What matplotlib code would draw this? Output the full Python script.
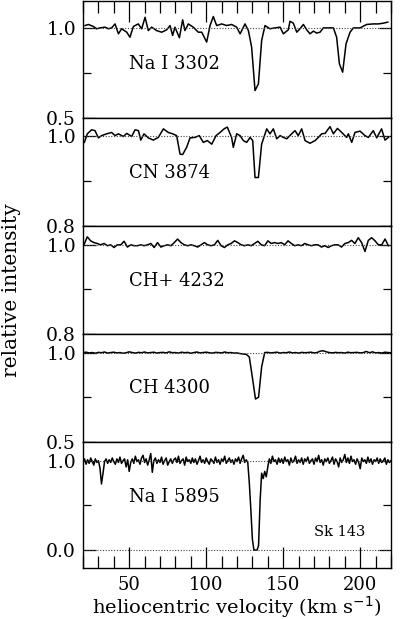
"""Stacked interstellar absorption profiles towards Sk 143."""

import numpy as np
import matplotlib
matplotlib.use("Agg")
import matplotlib.pyplot as plt
from matplotlib.ticker import FixedLocator, MultipleLocator

plt.rcParams["font.family"] = ["DejaVu Serif"]

# --- data --------------------------------------------------------------------
# Na I 3302
v_na3302 = [21.3, 23.5, 26.7, 28.9, 31.0, 34.3, 36.5, 38.6, 40.8, 43.0, 45.1,
            48.4, 50.5, 52.7, 55.9, 58.1, 60.3, 62.4, 64.6, 67.8, 71.1, 74.3,
            76.5, 78.2, 79.7, 82.6, 84.7, 86.2, 88.4, 91.6, 94.9, 97.1, 100.3,
            102.5, 104.6, 106.8, 110.1, 113.3, 116.5, 119.8, 122.0, 125.2,
            127.4, 129.5, 131.7, 133.9, 136.0, 138.2, 141.4, 144.7, 148.0,
            150.1, 153.3, 154.4, 156.6, 158.8, 160.9, 163.1, 165.3, 167.4,
            169.6, 171.7, 173.9, 176.1, 179.3, 182.6, 184.7, 186.5, 188.6,
            190.8, 193.4, 195.6, 199.9, 204.2, 208.5, 211.8, 215.0, 217.9]
f_na3302 = [1.011, 1.017, 1.006, 0.993, 0.998, 1.002, 0.993, 0.998, 1.020,
            0.965, 0.993, 0.974, 0.946, 1.006, 1.020, 0.993, 1.057, 0.983,
            1.002, 0.983, 0.974, 0.987, 1.011, 0.956, 1.002, 0.943, 1.043,
            0.983, 1.020, 1.002, 0.974, 0.974, 0.919, 1.011, 1.061, 1.011,
            1.020, 1.011, 1.017, 1.002, 0.965, 1.020, 0.983, 0.891, 0.650,
            0.687, 0.928, 1.011, 0.993, 0.998, 1.002, 0.965, 0.987, 1.035,
            1.024, 0.974, 0.993, 1.017, 0.987, 0.965, 0.980, 0.969, 0.974,
            0.998, 0.998, 0.998, 0.946, 0.798, 0.752, 0.909, 0.974, 0.998,
            0.998, 1.017, 1.020, 1.020, 1.024, 1.030]

# CN 3874
v_cn = [20.9, 22.8, 25.6, 27.8, 30.0, 32.1, 35.4, 38.6, 40.8, 43.0, 46.2,
        48.4, 51.6, 53.8, 56.0, 57.5, 59.6, 62.4, 65.7, 68.9, 72.2, 75.4,
        78.2, 80.8, 83.0, 84.7, 87.3, 89.5, 92.7, 95.5, 98.1, 100.7, 103.6,
        106.4, 109.0, 111.6, 113.7, 116.5, 117.6, 119.8, 122.0, 124.1, 126.3,
        128.5, 130.2, 131.7, 133.9, 136.0, 139.3, 141.4, 143.6, 145.8, 148.0,
        150.1, 152.3, 155.5, 157.7, 159.8, 162.0, 164.2, 167.4, 170.7, 172.8,
        175.0, 177.2, 180.4, 182.6, 185.2, 188.0, 191.2, 192.3, 194.5, 196.6,
        199.9, 203.1, 205.3, 208.5, 210.7, 213.9, 216.1, 218.3]
f_cn = [0.985, 1.004, 1.013, 1.011, 0.995, 1.000, 1.004, 1.007, 1.000, 1.004,
        0.998, 1.005, 0.998, 1.013, 1.011, 0.990, 1.004, 0.995, 0.990, 0.996,
        1.015, 1.007, 1.004, 1.000, 0.959, 0.958, 0.974, 0.995, 0.996, 1.000,
        0.985, 0.989, 0.981, 1.000, 1.007, 1.015, 1.019, 0.996, 0.974, 1.004,
        1.000, 0.989, 0.985, 0.996, 0.989, 0.907, 0.907, 0.981, 1.015, 1.004,
        1.015, 0.993, 1.000, 0.996, 0.993, 1.004, 1.011, 1.000, 1.015, 0.989,
        0.983, 0.989, 0.996, 1.004, 1.005, 1.020, 1.004, 1.016, 1.007, 0.996,
        1.004, 0.985, 1.007, 1.010, 1.000, 0.996, 1.011, 0.995, 1.015, 0.990,
        0.996]

# CH+ 4232 (even sampling from 20.6 to 218.3 km/s)
f_chp = [1.000, 1.018, 1.009, 1.005, 1.003, 1.000, 1.003, 0.998, 1.000, 0.994,
         1.000, 1.000, 1.008, 0.995, 1.000, 0.998, 0.998, 1.000, 0.998, 1.000,
         1.003, 0.994, 1.005, 0.995, 0.998, 1.000, 0.998, 1.005, 1.013, 1.005,
         1.000, 0.998, 1.000, 0.998, 0.995, 1.000, 1.005, 1.000, 0.998, 1.000,
         1.010, 0.998, 0.994, 1.000, 1.003, 1.009, 1.005,
         1.000, 0.998, 1.000, 0.998, 1.003, 1.008, 1.000, 0.998, 1.009, 1.003,
         1.005, 1.003, 1.005, 1.000, 1.009, 1.003, 0.998, 1.000, 0.998, 1.003,
         1.000, 0.998, 1.000, 1.000, 0.995, 0.998, 0.994, 0.998, 1.000, 1.000,
         0.995, 1.003, 1.005, 1.010, 1.003, 1.016, 1.005, 0.985, 1.010, 1.016,
         1.009, 1.000, 1.000, 1.013, 0.998]
v_chp = np.linspace(20.6, 218.3, len(f_chp))

# CH 4300 (2 km/s steps from 20 to 220)
f_ch = [1.000, 1.002, 0.998, 1.000, 0.996, 1.001, 0.999, 1.003, 0.997, 1.000,
        1.002, 0.998, 1.000, 0.996, 0.999, 1.004, 1.000, 0.997, 1.001, 0.999,
        1.003, 0.998, 1.000, 1.002, 0.997, 1.000, 1.001, 0.998, 1.004, 0.999,
        1.000, 0.997, 1.002, 0.999, 1.001, 0.996, 1.000, 1.003, 0.998, 1.000,
        1.002, 0.999, 0.997, 1.001, 1.000, 0.998, 1.003, 0.999, 1.000, 0.997,
        0.998, 0.994, 0.992, 0.990, 0.975, 0.860, 0.740, 0.750, 0.920, 1.000,
        1.001, 0.998, 1.000, 1.002, 0.997, 1.000, 0.999, 1.003, 0.998, 1.000,
        0.997, 1.001, 0.999, 1.000, 1.002, 0.998, 1.000, 1.008, 1.010, 1.004,
        1.000, 0.998, 1.001, 0.999, 1.000, 0.997, 1.002, 0.999, 1.000, 1.001,
        0.998, 1.000, 1.006, 0.999, 1.004, 0.998, 1.000, 0.997, 1.002, 1.000,
        0.999]
v_ch = np.linspace(20, 220, len(f_ch))

# Na I 5895 (1 km/s steps from 20 to 220)
f_na5895 = [
    0.98, 1.02, 0.96, 1.01, 0.97, 1.03, 0.99, 0.95, 1.02, 0.98,
    1.00, 0.92, 0.74, 0.86, 0.99, 1.02, 0.97, 1.01, 0.98, 1.03,
    0.99, 0.96, 1.02, 0.98, 1.04, 0.97, 1.00, 1.02, 0.93, 1.01,
    0.88, 0.98, 1.02, 0.97, 1.05, 0.99, 1.01, 0.96, 1.03, 1.06,
    0.98, 1.02, 0.95, 1.01, 1.08, 0.87, 1.00, 1.03, 0.97, 1.01,
    0.98, 1.04, 0.96, 1.00, 1.03, 0.95, 0.99, 1.02, 0.97, 1.01,
    1.03, 0.98, 1.05, 0.97, 1.00, 1.02, 0.95, 1.04, 0.99, 1.01,
    0.97, 1.03, 0.98, 1.02, 0.96, 1.00, 1.05, 0.98, 1.01, 0.97,
    1.03, 0.99, 0.96, 1.02, 1.00, 0.97, 1.04, 0.98, 1.01, 0.96,
    1.02, 0.99, 1.05, 0.97, 1.00, 1.03, 0.98, 1.01, 0.96, 1.02,
    0.99, 1.04, 0.97, 1.02, 1.06, 0.98, 1.01, 0.98, 0.75, 0.45,
    0.12, 0.00, 0.00, 0.00, 0.05, 0.55, 0.86, 0.80, 0.88, 0.82,
    0.93, 1.02, 0.97, 1.05, 0.99, 1.01, 0.96, 1.03, 0.98, 1.02,
    0.97, 1.04, 0.99, 1.01, 0.95, 1.03, 0.98, 1.00, 1.05, 0.97,
    1.01, 0.98, 1.03, 0.96, 1.02, 0.99, 1.04, 0.97, 1.00, 1.02,
    0.96, 1.03, 0.99, 1.06, 0.98, 1.01, 0.95, 1.02, 0.99, 1.03,
    0.97, 1.00, 1.04, 0.96, 1.02, 0.99, 0.93, 1.03, 0.98, 1.01,
    1.07, 0.98, 1.03, 0.97, 1.05, 0.99, 1.01, 0.96, 1.02, 0.98,
    0.91, 1.03, 0.99, 1.01, 0.97, 1.04, 0.98, 1.02, 0.96, 1.01,
    0.99, 1.03, 0.97, 1.02, 0.98, 1.00, 1.03, 0.96, 1.01, 0.98,
    1.00]
v_na5895 = np.linspace(20, 220, len(f_na5895))

# panel setup: (x, y, label, y-limits, labelled ticks, mid tick, label height)
panels = [
    (v_na3302, f_na3302, "Na I 3302", (0.5, 1.15), [0.5, 1.0], 0.75, 0.80),
    (v_cn, f_cn, "CN 3874", (0.8, 1.04), [0.8, 1.0], 0.9, 0.918),
    (v_chp, f_chp, "CH+ 4232", (0.8, 1.043), [0.8, 1.0], 0.9, 0.919),
    (v_ch, f_ch, "CH 4300", (0.5, 1.105), [0.5, 1.0], 0.75, 0.80),
    (v_na5895, f_na5895, "Na I 5895", (-0.2, 1.21), [0.0, 1.0], 0.5, 0.595),
]
heights = [117, 108, 108, 108, 126]
FS = 13.5

fig = plt.figure(figsize=(4.0, 6.19), dpi=100)
gs = fig.add_gridspec(5, 1, height_ratios=heights, hspace=0,
                      left=83 / 400, right=391 / 400,
                      top=1 - 0.5 / 619, bottom=1 - 568 / 619)

axes = []
for i, (vx, fy, name, ylim, yt, ymid, ylab) in enumerate(panels):
    ax = fig.add_subplot(gs[i])
    axes.append(ax)
    ax.plot(vx, fy, color="black", lw=1.1)
    for lvl in yt:
        ax.axhline(lvl, color="#444444", lw=0.8, ls=(0, (1, 1.5)))
    ax.set_xlim(20, 220)
    ax.set_ylim(*ylim)
    ax.yaxis.set_major_locator(FixedLocator(yt))
    ax.yaxis.set_minor_locator(FixedLocator([ymid]))
    ax.set_yticklabels([f"{t:.1f}" for t in yt])
    ax.tick_params(axis="y", which="major", direction="in", left=True,
                   right=True, length=9, width=0.9, labelsize=FS, pad=5)
    ax.tick_params(axis="y", which="minor", direction="in", left=True,
                   right=True, length=6, width=0.9)
    ax.xaxis.set_major_locator(MultipleLocator(50))
    ax.xaxis.set_minor_locator(MultipleLocator(10))
    ax.tick_params(axis="x", which="major", direction="in", length=15,
                   width=0.9, top=(i == 0), bottom=(i == 4),
                   labelbottom=(i == 4), labelsize=13, pad=6)
    ax.tick_params(axis="x", which="minor", direction="in", length=8.5,
                   width=0.9, top=(i == 0), bottom=(i == 4))
    for sp in ax.spines.values():
        sp.set_linewidth(1.0)
    ax.text(50, ylab, name, fontsize=13, ha="left", va="center")

axes[-1].text(170, 0.2, "Sk 143", fontsize=10.5, ha="left", va="center")
fig.text(237 / 400, 1 - 613.5 / 619, "heliocentric velocity (km s$^{-1}$)",
         fontsize=14, ha="center", va="baseline")
fig.text(12 / 400, 1 - 290 / 619, "relative intensity", rotation=90,
         fontsize=14.5, ha="center", va="center")

fig.savefig("out.png", dpi=100)
